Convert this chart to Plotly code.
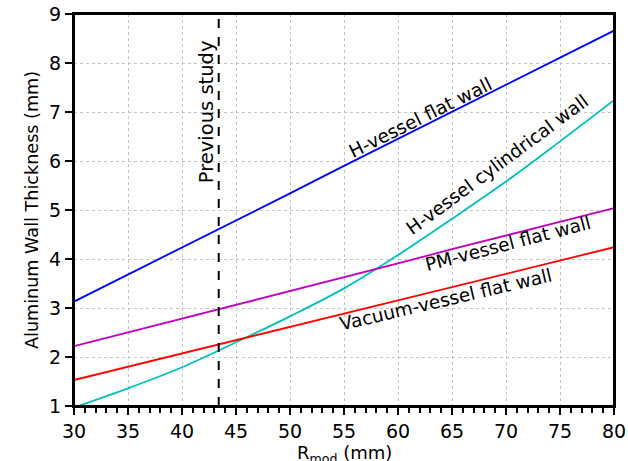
import plotly.graph_objects as go

# ---- data ----
r_mod = [30, 35, 40, 45, 50, 55, 60, 65, 70, 75, 80]
h_flat = [3.13, 3.68, 4.24, 4.79, 5.34, 5.90, 6.45, 7.00, 7.56, 8.11, 8.66]
h_cyl = [0.97, 1.36, 1.79, 2.30, 2.83, 3.40, 4.08, 4.82, 5.58, 6.40, 7.24]
pm_flat = [2.22, 2.50, 2.78, 3.07, 3.35, 3.63, 3.91, 4.20, 4.48, 4.76, 5.04]
vac_flat = [1.53, 1.80, 2.07, 2.34, 2.61, 2.89, 3.16, 3.43, 3.70, 3.97, 4.24]
previous_study_r = 43.4

series_names = ["H-vessel flat wall", "H-vessel cylindrical wall",
                "PM-vessel flat wall", "Vacuum-vessel flat wall"]
series_values = [h_flat, h_cyl, pm_flat, vac_flat]
series_colors = ["#0000ff", "#00bfbf", "#bf00bf", "#ff0000"]

x_ticks = [30, 35, 40, 45, 50, 55, 60, 65, 70, 75, 80]
y_ticks = [1, 2, 3, 4, 5, 6, 7, 8, 9]

FONT = "DejaVu Sans"

fig = go.Figure()
for name, vals, col in zip(series_names, series_values, series_colors):
    fig.add_trace(go.Scatter(
        x=r_mod, y=vals, mode="lines", name=name,
        line=dict(color=col, width=1.8,
                  shape="spline" if name == "H-vessel cylindrical wall" else "linear"),
        showlegend=False, hoverinfo="skip"))

# previous study dashed line
fig.add_shape(type="line", x0=previous_study_r, x1=previous_study_r, y0=0, y1=1,
              xref="x", yref="paper", line=dict(color="black", width=2, dash="dash"))
# axes frame
fig.add_shape(type="rect", x0=0, x1=1, y0=0, y1=1, xref="paper", yref="paper",
              line=dict(color="black", width=2), fillcolor="rgba(0,0,0,0)", layer="above")

# annotations
ann_font = dict(family=FONT, size=18.5, color="black")
fig.add_annotation(x=previous_study_r, y=7.0, text="Previous study", textangle=-90,
                   showarrow=False, xanchor="right", yanchor="middle", xshift=1,
                   font=dict(family=FONT, size=19.5, color="black"))
labels = [
    ("H-vessel flat wall", 62.1, 6.88, -26.4),
    ("H-vessel cylindrical wall", 69.2, 5.92, -36.5),
    ("PM-vessel flat wall", 70.2, 4.31, -14.6),
    ("Vacuum-vessel flat wall", 64.4, 3.18, -13.2),
]
for txt, x, y, ang in labels:
    fig.add_annotation(x=x, y=y, text=txt, textangle=ang, showarrow=False,
                       xanchor="center", yanchor="middle", font=ann_font)

# x-axis title (partly cut by the bottom edge, as in the reference)
fig.add_annotation(x=0.5, y=0, xref="paper", yref="paper", text="R<sub>mod</sub> (mm)",
                   showarrow=False, xanchor="center", yanchor="top", yshift=-34,
                   font=dict(family=FONT, size=18, color="black"))

fig.update_layout(
    width=628, height=461,
    margin=dict(l=74, r=14, t=14, b=55),
    paper_bgcolor="white", plot_bgcolor="white",
    font=dict(family=FONT, size=19, color="black"),
)
fig.update_xaxes(
    range=[30, 80], tickvals=x_ticks, ticktext=[str(v) for v in x_ticks],
    showline=True, linecolor="black", linewidth=2, mirror=True,
    ticks="outside", ticklen=7, tickwidth=2, tickcolor="black",
    minor=dict(dtick=1, ticks="outside", ticklen=5, tickwidth=1.5, tickcolor="black", showgrid=False),
    showgrid=True, gridcolor="#c4c4c4", griddash="dot", gridwidth=1,
    zeroline=False, automargin=False, ticklabeloverflow="allow",
    tickfont=dict(family=FONT, size=19),
)
fig.update_yaxes(
    range=[1, 9], tickvals=y_ticks, ticktext=[str(v) for v in y_ticks],
    showline=True, linecolor="black", linewidth=2, mirror=True,
    ticks="outside", ticklen=7, tickwidth=2, tickcolor="black",
    showgrid=True, gridcolor="#c4c4c4", griddash="dot", gridwidth=1,
    zeroline=False, automargin=False, ticklabeloverflow="allow",
    tickfont=dict(family=FONT, size=19),
    title=dict(text="Aluminum Wall Thickness (mm)", font=dict(family=FONT, size=17.6), standoff=6),
)

fig.write_html("out.html", config={"displayModeBar": False},
               post_script="document.body.style.margin='0';")
